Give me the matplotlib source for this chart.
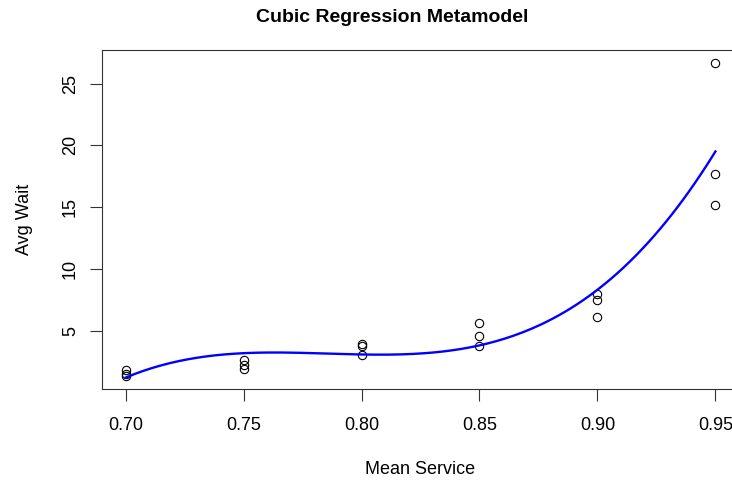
import numpy as np
import matplotlib.pyplot as plt

plt.rcParams['font.family'] = ['Liberation Sans', 'DejaVu Sans']

# observed runs (mean service time vs average wait)
mean_service = [0.70, 0.70, 0.70, 0.75, 0.75, 0.75, 0.80, 0.80, 0.80,
                0.85, 0.85, 0.85, 0.90, 0.90, 0.90, 0.95, 0.95, 0.95]
avg_wait = [1.8, 1.5, 1.3, 2.6, 2.2, 1.9, 3.95, 3.8, 3.05,
            5.6, 4.6, 3.8, 8.0, 7.5, 6.1, 26.7, 17.7, 15.2]

x = np.array(mean_service)
y = np.array(avg_wait)

# cubic metamodel
coef = np.polyfit(x, y, 3)
xs = np.linspace(0.70, 0.95, 200)
ys = np.polyval(coef, xs)

W, H = 732, 483
fig = plt.figure(figsize=(W / 100, H / 100), dpi=100)
# plot region runs past the right edge (reference is cropped)
L, R, T, B = 102, 739, 50, 389
ax = fig.add_axes([L / W, 1 - B / H, (R - L) / W, (B - T) / H])

ax.plot(x, y, 'o', mfc='none', mec='black', ms=6, mew=0.8)
ax.plot(xs, ys, color='#0000ff', lw=1.7)

xr = x.max() - x.min()
yr = y.max() - y.min()
ax.set_xlim(x.min() - 0.04 * xr, x.max() + 0.04 * xr)
ax.set_ylim(y.min() - 0.04 * yr, y.max() + 0.04 * yr)

ax.set_xticks([0.70, 0.75, 0.80, 0.85, 0.90, 0.95])
ax.set_xticklabels(['0.70', '0.75', '0.80', '0.85', '0.90', '0.95'])
ax.set_yticks([5, 10, 15, 20, 25])
for lab in ax.get_yticklabels():
    lab.set_rotation(90)
    lab.set_va('center')
ax.tick_params(length=8.5, width=0.8, labelsize=13, color='#333333')
ax.tick_params(axis='x', pad=12)
ax.tick_params(axis='y', pad=8)
for s in ax.spines.values():
    s.set_linewidth(0.8)
    s.set_color('#333333')

fig.text(392 / W, 1 - 18 / H, 'Cubic Regression Metamodel', fontsize=14,
         fontweight='bold', ha='center', va='center')
ax.set_xlabel('Mean Service', fontsize=13, va='center')
ax.xaxis.set_label_coords(0.5, (B - 470) / (B - T))
ax.set_ylabel('Avg Wait', fontsize=13, va='center')
ax.yaxis.set_label_coords((25 - L) / (R - L), 0.5)

fig.savefig('out.png', dpi=100)
